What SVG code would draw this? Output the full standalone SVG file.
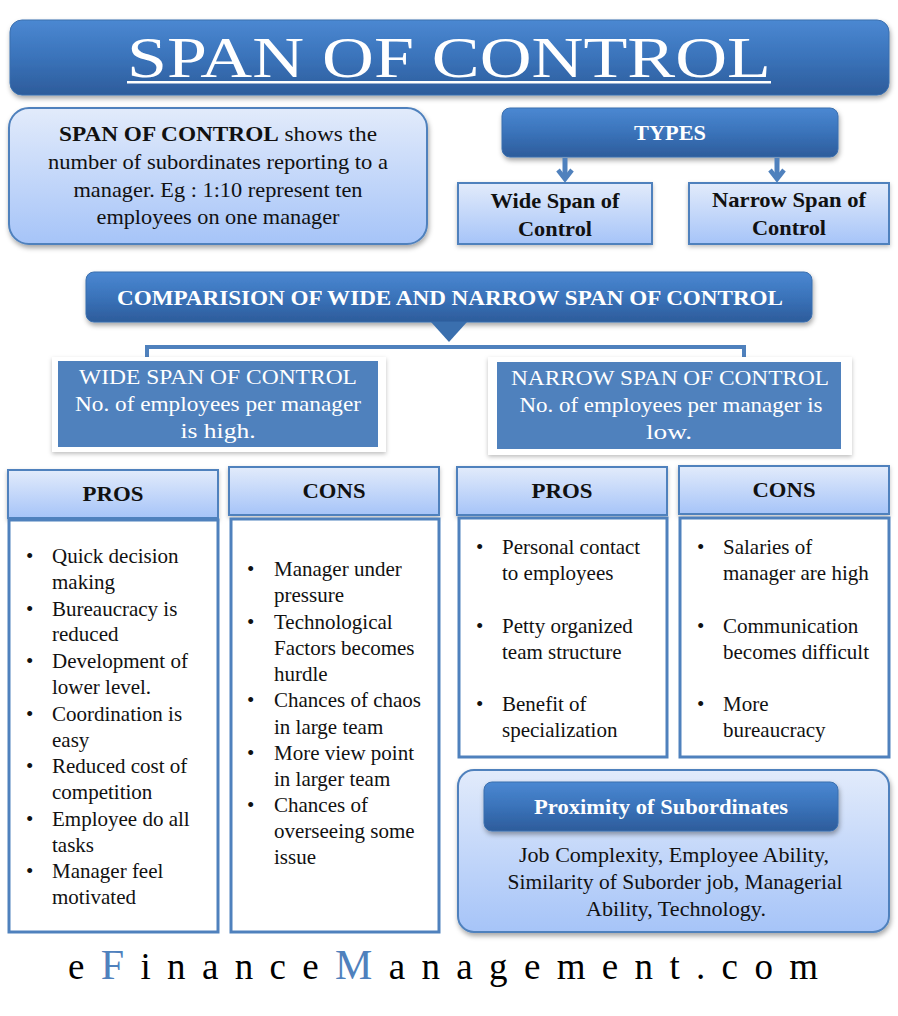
<svg xmlns="http://www.w3.org/2000/svg" width="898" height="1016" viewBox="0 0 898 1016" font-family="'Liberation Serif','DejaVu Serif',serif">
<defs>
<linearGradient id="gDark" x1="0" y1="0" x2="0" y2="1"><stop offset="0" stop-color="#4b88d2"/><stop offset="0.5" stop-color="#3a73ba"/><stop offset="1" stop-color="#2d5c9b"/></linearGradient>
<linearGradient id="gLight" x1="0" y1="0" x2="0" y2="1"><stop offset="0" stop-color="#e2ebfb"/><stop offset="1" stop-color="#a6c4f8"/></linearGradient>
<filter id="sh" x="-10%" y="-10%" width="120%" height="130%"><feDropShadow dx="1" dy="3" stdDeviation="2.5" flood-color="#000" flood-opacity="0.35"/></filter>
<filter id="sh2" x="-10%" y="-10%" width="120%" height="130%"><feDropShadow dx="0" dy="2" stdDeviation="2" flood-color="#000" flood-opacity="0.25"/></filter>
</defs>
<style>
text{font-family:"Liberation Serif","DejaVu Serif",serif;}
.w{fill:#fff}
.b{font-weight:bold}
.c{text-anchor:middle}
.t{font-size:21px;fill:#111}
.li{font-size:21px;fill:#111}
.lightbox{fill:url(#gLight);stroke:#4f81bd;stroke-width:2}
.darkbox{fill:url(#gDark);stroke:#3a6fae;stroke-width:1}
.body{fill:#fff;stroke:#4f81bd;stroke-width:3}
.conn{fill:none;stroke:#4f81bd}
</style>
<rect width="898" height="1016" fill="#fff"/>

<g id="title">
<rect x="10" y="20" width="879" height="75" rx="12" class="darkbox" filter="url(#sh)"/>
<text x="449" y="77" class="w c" font-size="57" textLength="644" lengthAdjust="spacingAndGlyphs">SPAN OF CONTROL</text>
<rect x="127" y="81" width="644" height="2.5" fill="#fff"/>
</g>

<g id="definition">
<rect x="9" y="108" width="418" height="136" rx="20" class="lightbox" filter="url(#sh)"/>
<text x="218" y="141" class="t c" textLength="318" lengthAdjust="spacingAndGlyphs"><tspan class="b">SPAN OF CONTROL</tspan> shows the</text>
<text x="218" y="169" class="t c" textLength="340" lengthAdjust="spacingAndGlyphs">number of subordinates reporting to a</text>
<text x="218" y="197" class="t c" textLength="289" lengthAdjust="spacingAndGlyphs">manager. Eg : 1:10 represent ten</text>
<text x="218" y="224" class="t c" textLength="243" lengthAdjust="spacingAndGlyphs">employees on one manager</text>
</g>

<g id="types">
<rect x="502" y="108" width="336" height="49" rx="8" class="darkbox" filter="url(#sh)"/>
<text x="670" y="140" class="w b c" font-size="20" textLength="72" lengthAdjust="spacingAndGlyphs">TYPES</text>
</g>

<g id="wide-type">
<rect x="458" y="183" width="194" height="61" class="lightbox" filter="url(#sh2)"/>
<text x="555" y="208" class="t b c" textLength="129" lengthAdjust="spacingAndGlyphs">Wide Span of</text>
<text x="555" y="236" class="t b c" textLength="74" lengthAdjust="spacingAndGlyphs">Control</text>
</g>

<g id="narrow-type">
<rect x="689" y="183" width="200" height="61" class="lightbox" filter="url(#sh2)"/>
<text x="789" y="207" class="t b c" textLength="154" lengthAdjust="spacingAndGlyphs">Narrow Span of</text>
<text x="789" y="235" class="t b c" textLength="74" lengthAdjust="spacingAndGlyphs">Control</text>
</g>

<g id="comparison">
<rect x="86" y="272" width="726" height="50" rx="8" class="darkbox" filter="url(#sh)"/>
<text x="450" y="305" class="w b c" font-size="20" textLength="666" lengthAdjust="spacingAndGlyphs">COMPARISION OF WIDE AND NARROW SPAN OF CONTROL</text>
</g>

<g id="connectors">
<line x1="565" y1="158" x2="565" y2="178" class="conn" stroke-width="5"/>
<path d="M558,170 L565,179 L572,170" class="conn" stroke-width="4.5"/>
<line x1="777" y1="158" x2="777" y2="178" class="conn" stroke-width="5"/>
<path d="M770,170 L777,179 L784,170" class="conn" stroke-width="4.5"/>
<path d="M431,322 L467,322 L449,342 Z" fill="#3a6fae"/>
<path d="M147,357 L147,347 L744,347 L744,357" class="conn" stroke-width="4"/>
</g>

<g id="wide-span">
<rect x="52" y="357" width="334" height="95" fill="#fff" filter="url(#sh2)"/>
<rect x="58" y="361" width="320" height="86" fill="#4f81bd"/>
<text x="218" y="384" class="w c" font-size="21" textLength="278" lengthAdjust="spacingAndGlyphs">WIDE SPAN OF CONTROL</text>
<text x="218" y="411" class="w c" font-size="21" textLength="286" lengthAdjust="spacingAndGlyphs">No. of employees per manager</text>
<text x="218" y="438" class="w c" font-size="21" textLength="75" lengthAdjust="spacingAndGlyphs">is high.</text>
</g>

<g id="narrow-span">
<rect x="488" y="357" width="364" height="98" fill="#fff" filter="url(#sh2)"/>
<rect x="497" y="362" width="344" height="87" fill="#4f81bd"/>
<text x="670" y="385" class="w c" font-size="21" textLength="318" lengthAdjust="spacingAndGlyphs">NARROW SPAN OF CONTROL</text>
<text x="671" y="412" class="w c" font-size="21" textLength="303" lengthAdjust="spacingAndGlyphs">No. of employees per manager is</text>
<text x="669" y="439" class="w c" font-size="21" textLength="46" lengthAdjust="spacingAndGlyphs">low.</text>
</g>

<g id="wide-pros">
<rect x="8" y="470" width="210" height="48" class="lightbox" filter="url(#sh2)"/>
<text x="113" y="501" class="t b c" textLength="61" lengthAdjust="spacingAndGlyphs">PROS</text>
<rect x="9" y="520" width="209" height="412" class="body"/>
<g class="li">
<text x="26" y="563">•</text><text x="52" y="563">Quick decision</text><text x="52" y="589">making</text>
<text x="26" y="616">•</text><text x="52" y="616">Bureaucracy is</text><text x="52" y="641">reduced</text>
<text x="26" y="668">•</text><text x="52" y="668">Development of</text><text x="52" y="694">lower level.</text>
<text x="26" y="721">•</text><text x="52" y="721">Coordination is</text><text x="52" y="747">easy</text>
<text x="26" y="773">•</text><text x="52" y="773">Reduced cost of</text><text x="52" y="799">competition</text>
<text x="26" y="826">•</text><text x="52" y="826">Employee do all</text><text x="52" y="852">tasks</text>
<text x="26" y="878">•</text><text x="52" y="878">Manager feel</text><text x="52" y="904">motivated</text>
</g>
</g>

<g id="wide-cons">
<rect x="229" y="467" width="210" height="48" class="lightbox" filter="url(#sh2)"/>
<text x="334" y="498" class="t b c" textLength="63" lengthAdjust="spacingAndGlyphs">CONS</text>
<rect x="231" y="519" width="208" height="413" class="body"/>
<g class="li">
<text x="247" y="576">•</text><text x="274" y="576">Manager under</text><text x="274" y="602">pressure</text>
<text x="247" y="629">•</text><text x="274" y="629">Technological</text><text x="274" y="655">Factors becomes</text><text x="274" y="681">hurdle</text>
<text x="247" y="707">•</text><text x="274" y="707">Chances of chaos</text><text x="274" y="734">in large team</text>
<text x="247" y="760">•</text><text x="274" y="760">More view point</text><text x="274" y="786">in larger team</text>
<text x="247" y="812">•</text><text x="274" y="812">Chances of</text><text x="274" y="838">overseeing some</text><text x="274" y="864">issue</text>
</g>
</g>

<g id="narrow-pros">
<rect x="457" y="467" width="210" height="48" class="lightbox" filter="url(#sh2)"/>
<text x="562" y="498" class="t b c" textLength="61" lengthAdjust="spacingAndGlyphs">PROS</text>
<rect x="459" y="518" width="208" height="239" class="body"/>
<g class="li">
<text x="476" y="554">•</text><text x="502" y="554">Personal contact</text><text x="502" y="580">to employees</text>
<text x="476" y="633">•</text><text x="502" y="633">Petty organized</text><text x="502" y="659">team structure</text>
<text x="476" y="711">•</text><text x="502" y="711">Benefit of</text><text x="502" y="737">specialization</text>
</g>
</g>

<g id="narrow-cons">
<rect x="679" y="466" width="210" height="48" class="lightbox" filter="url(#sh2)"/>
<text x="784" y="497" class="t b c" textLength="63" lengthAdjust="spacingAndGlyphs">CONS</text>
<rect x="680" y="518" width="209" height="239" class="body"/>
<g class="li">
<text x="697" y="554">•</text><text x="723" y="554">Salaries of</text><text x="723" y="580">manager are high</text>
<text x="697" y="633">•</text><text x="723" y="633">Communication</text><text x="723" y="659">becomes difficult</text>
<text x="697" y="711">•</text><text x="723" y="711">More</text><text x="723" y="737">bureaucracy</text>
</g>
</g>

<g id="proximity">
<rect x="458" y="770" width="431" height="162" rx="16" class="lightbox" filter="url(#sh)"/>
<rect x="484" y="782" width="354" height="49" rx="8" class="darkbox" filter="url(#sh)"/>
<text x="661" y="814" class="w b c" font-size="20" textLength="254" lengthAdjust="spacingAndGlyphs">Proximity of Subordinates</text>
<text x="674" y="862" class="t c" textLength="310" lengthAdjust="spacingAndGlyphs">Job Complexity, Employee Ability,</text>
<text x="675" y="889" class="t c" textLength="335" lengthAdjust="spacingAndGlyphs">Similarity of Suborder job, Managerial</text>
<text x="676" y="916" class="t c" textLength="180" lengthAdjust="spacingAndGlyphs">Ability, Technology.</text>
</g>

<g id="footer">
<text x="68" y="979" font-size="37" fill="#000" textLength="750" lengthAdjust="spacing">e<tspan fill="#4f81bd" font-size="42">F</tspan>inance<tspan fill="#4f81bd" font-size="42">M</tspan>anagement.com</text>
</g>
</svg>
